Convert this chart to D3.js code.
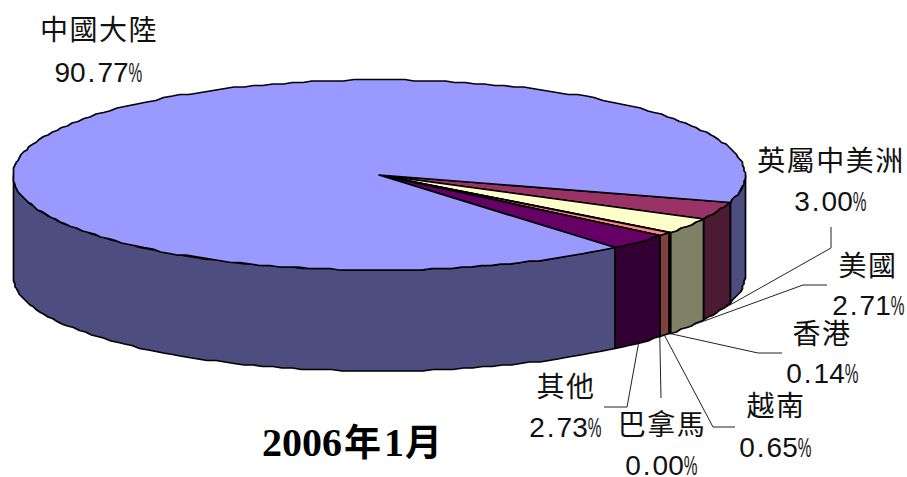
<!DOCTYPE html>
<html><head><meta charset="utf-8">
<script src="https://cdn.jsdelivr.net/npm/d3@7"></script>
<style>
html,body{margin:0;padding:0;background:#fff}
svg{display:block}
text{font-family:"Liberation Sans","Noto Sans CJK TC",sans-serif;fill:#111}
.t{font-size:28px;letter-spacing:1.5px;text-anchor:middle}
.v{font-size:28px}
.title{font-weight:700;fill:#000}
.title .s{font-family:"Liberation Serif",serif;font-size:40px}
.title .c{font-family:"Noto Sans CJK TC",sans-serif;font-size:37px}
</style></head><body>
<svg id="c" width="907" height="477"></svg>
<script>
const categories = ["英屬中美洲","美國","香港","越南","巴拿馬","其他","中國大陸"];
const shares = [3.00,2.71,0.14,0.65,0.00,2.73,90.77];
const topColors = ["#993366","#FFFFCC","#CCFFFF","#FF8080","#0066CC","#660066","#9999FF"];
const sideColors = ["#4D1A33","#808066","#668080","#804040","#003366","#330033","#4D4D80"];
const valueLabels = ["3.00","2.71","0.14","0.65","0.00","2.73","90.77"];
const nameAt = [[831,171],[868,276],[822,344],[776,416],[662,435],[566,397],[99,40]];
const valueAt = [[830,211],[868,315],[822,383],[775,457],[661,475],[565,437],[98,82]];
const leaders = [[[831,248],[831,227]],[[803,285],[827,285]],[[758,353],[782,353]],[[713,427],[735,427]],[[661,398]],[[627,407],[604,407]],[]];
const titleParts = [["2006","s",0],["年","c",2],["1","s",3],["月","c",1]];

const svg = d3.select("#c");
const px = d3.scaleLinear().domain([-1,1]).range([13,745]);
const py = d3.scaleLinear().domain([-1,1]).range([80,270]);
const depth = 101;
const startDeg = 106.5;
const arcs = d3.pie().sort(null).value(d=>d)
  .startAngle(startDeg*Math.PI/180).endAngle((startDeg+360)*Math.PI/180)(shares);
const snap = v=>Math.round(v/1.5)*1.5;
const P = (a,dz=0)=>[px(Math.sin(a)), py(-Math.cos(a))+dz];
const Q = (a,dz=0)=>{const p=P(a,dz);return [snap(p[0]),snap(p[1]-dz)+dz];};  // coarse outline, as in the source raster
const line = d3.line();
const sample = (a0,a1)=>{const n=Math.max(1,Math.ceil(Math.abs(a1-a0)/0.028));return d3.range(n+1).map(i=>a0+(a1-a0)*i/n);};
const stroke = {stroke:"#000","stroke-width":1.7,"stroke-linejoin":"round"};
const PI=Math.PI;

const wallG = svg.append("g");
arcs.forEach((d,i)=>{
  [[PI/2,3*PI/2],[2.5*PI,3.5*PI]].forEach(([lo,hi])=>{
    const a0=Math.max(d.startAngle,lo), a1=Math.min(d.endAngle,hi);
    if(a1<a0) return;
    const s=sample(a0,a1);
    const pts=[...s.map(a=>Q(a)),...s.slice().reverse().map(a=>Q(a,depth))];
    wallG.append("path").attr("d",line(pts)+"Z").attr("fill",sideColors[i]).call(g=>{for(const k in stroke)g.attr(k,stroke[k]);});
  });
});
const topG = svg.append("g");
arcs.forEach((d,i)=>{
  const pts=[[px(0),py(0)],...sample(d.startAngle,d.endAngle).map(a=>Q(a))];
  topG.append("path").attr("d",line(pts)+"Z").attr("fill",topColors[i]).call(g=>{for(const k in stroke)g.attr(k,stroke[k]);});
});
const leadG = svg.append("g").attr("fill","none").attr("stroke","#222").attr("stroke-width",1);
arcs.forEach((d,i)=>{
  if(!leaders[i].length) return;
  const mid=(d.startAngle+d.endAngle)/2;
  leadG.append("path").attr("d",line([P(mid,depth),...leaders[i]]));
});
categories.forEach((c,i)=>{
  svg.append("text").attr("class","t").attr("x",nameAt[i][0]).attr("y",nameAt[i][1]).text(c);
  const [x,y]=valueAt[i];
  const [whole,frac]=valueLabels[i].split(".");
  const numW = whole.length*15.57+7.8+frac.length*15.57+4;
  const left = x-(numW+13)/2;
  const t=svg.append("text").attr("class","v").attr("x",left).attr("y",y);
  t.append("tspan").text(whole);
  t.append("tspan").attr("dx",2).text(".");
  t.append("tspan").attr("dx",2).text(frac);
  svg.append("text").attr("class","v")
    .attr("transform",`translate(${left+numW},${y}) scale(.55,1)`).text("%");
});
const title=svg.append("text").attr("class","title").attr("x",262).attr("y",456);
titleParts.forEach(([s,c,dx])=>title.append("tspan").attr("class",c).attr("dx",dx).text(s));
</script>
</body></html>
